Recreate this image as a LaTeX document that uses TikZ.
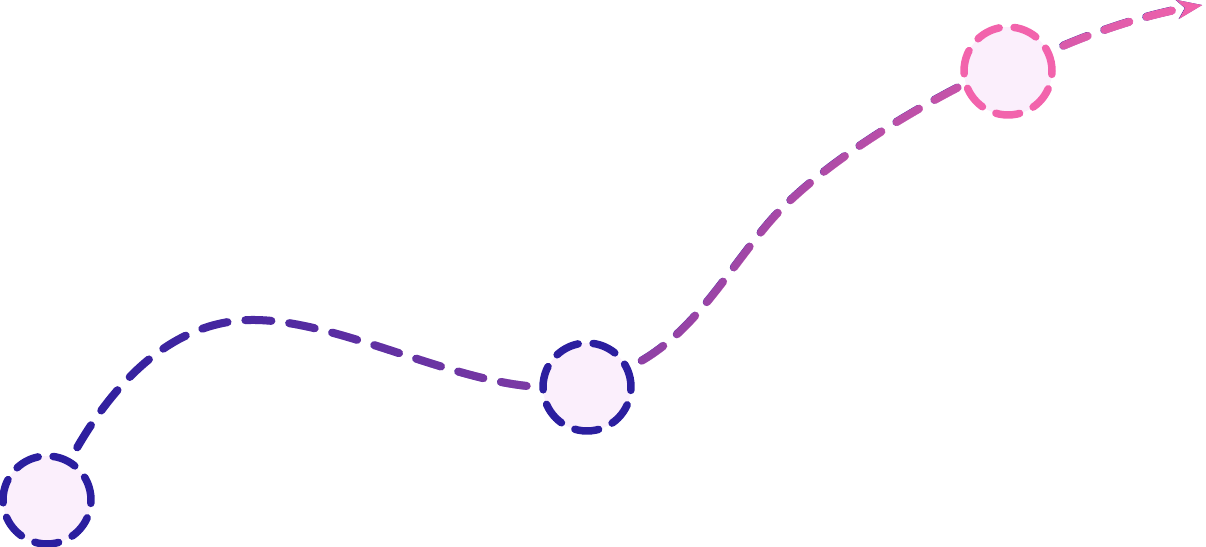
\documentclass[tikz,border=0pt]{standalone}
\usepackage{tikz}
\usetikzlibrary{arrows.meta}
\usetikzlibrary{fadings}

\definecolor{deepblue}{HTML}{2B1E9F}
\definecolor{hotpink}{HTML}{F263AC}
\definecolor{lilac}{HTML}{FBEFFC}
\tikzfading[name=pinkfade, left color=transparent!100, middle color=transparent!80, right color=transparent!0]

\begin{document}
\begin{tikzpicture}[x=0.02cm,y=0.02cm]
  \tikzset{milestone/.style = {shape=circle,draw=deepblue,fill=lilac,minimum size=1.76cm,inner sep=0pt,
      line width=0.15cm,line cap=round,dash pattern=on 0.48cm off 0.3cm}}
  \tikzset{trail/.style = {line width=0.16cm,line cap=round,dash pattern=on 0.52cm off 0.36cm,dash phase=0.62cm,
      -{Stealth[length=0.5cm,width=0.38cm,inset=0.15cm]},draw=deepblue,
      postaction={draw=hotpink,path fading=pinkfade,fit fading=true}}}

  \useasboundingbox (0,0) rectangle (1206,547);

	\node[milestone] (A) at (47,47) {};
	\node[milestone] (B) at (587,160) {};
	\node[milestone,draw=hotpink] (C) at (1008,476) {};
	\coordinate (T) at (1202,542);

	\draw[trail] (A.60) .. controls (110,160) and (170,228) .. (255,227)
	  .. controls (340,226) and (450,165) .. (B.180)
	  (B.25) .. controls (690,210) and (720,265) .. (765,320)
	  .. controls (810,375) and (900,430) .. (C.197)
	  (C.25) .. controls (1100,518) and (1150,533) .. (T);

\end{tikzpicture}
\end{document}
